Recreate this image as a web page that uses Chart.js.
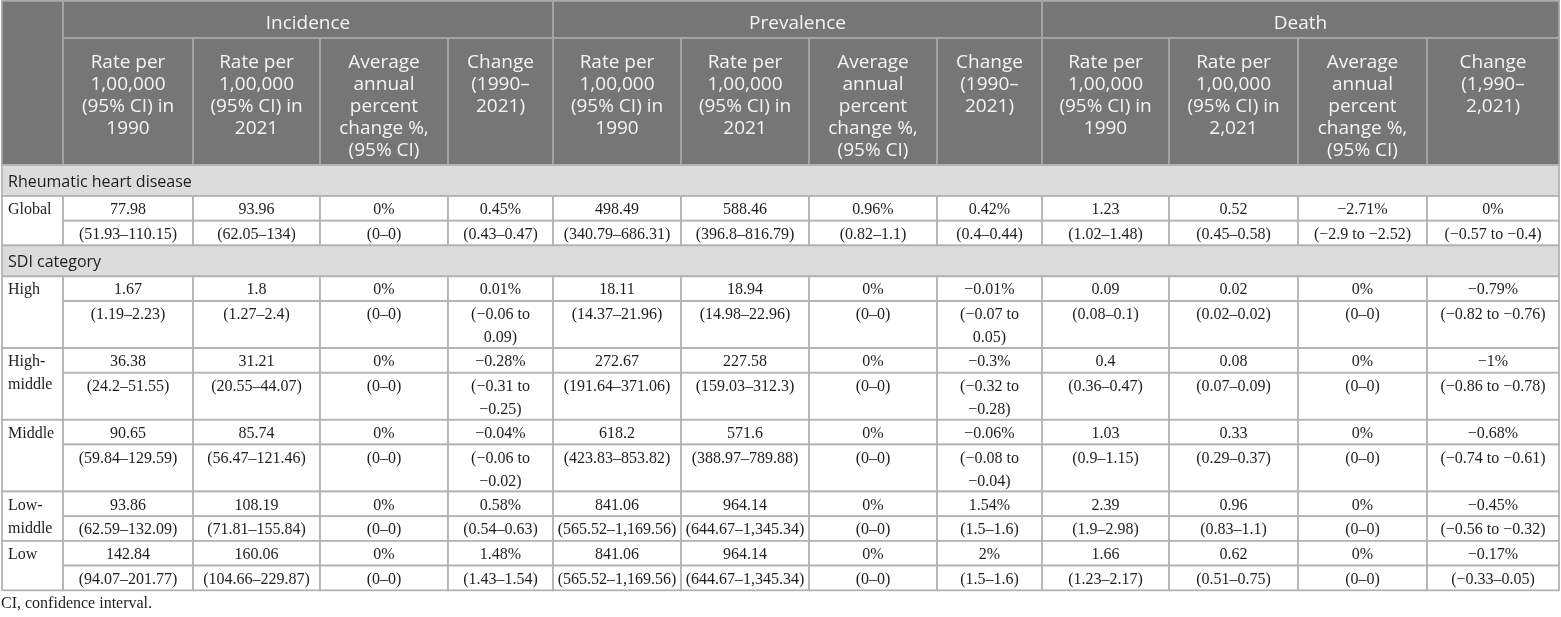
<!DOCTYPE html>
<html>
<head>
<meta charset="utf-8">
<script src="https://cdn.jsdelivr.net/npm/chart.js@4.4.1/dist/chart.umd.min.js"></script>
<style>
  html, body { margin: 0; padding: 0; background: #ffffff; }
  #wrap { width: 1561px; height: 617px; }
</style>
</head>
<body>
<div id="wrap"><canvas id="table_chart"></canvas></div>
<script>
// ---- data ----
const groups = ['Incidence', 'Prevalence', 'Death'];

const headersIncidence = [
    ['Rate per', '1,00,000', '(95% CI) in', '1990'],
    ['Rate per', '1,00,000', '(95% CI) in', '2021'],
    ['Average', 'annual', 'percent', 'change %,', '(95% CI)'],
    ['Change', '(1990–', '2021)']
];
const headersPrevalence = [
    ['Rate per', '1,00,000', '(95% CI) in', '1990'],
    ['Rate per', '1,00,000', '(95% CI) in', '2021'],
    ['Average', 'annual', 'percent', 'change %,', '(95% CI)'],
    ['Change', '(1990–', '2021)']
];
const headersDeath = [
    ['Rate per', '1,00,000', '(95% CI) in', '1990'],
    ['Rate per', '1,00,000', '(95% CI) in', '2,021'],
    ['Average', 'annual', 'percent', 'change %,', '(95% CI)'],
    ['Change', '(1,990–', '2,021)']
];

const sections = ['Rheumatic heart disease', 'SDI category'];
// which section each row belongs to
const rowSection = [0, 1, 1, 1, 1, 1];
const rowLabels = ['Global', 'High', 'High-middle', 'Middle', 'Low-middle', 'Low'];

const incidence1990 = ['77.98', '1.67', '36.38', '90.65', '93.86', '142.84'];
const incidence1990CI = ['(51.93–110.15)', '(1.19–2.23)', '(24.2–51.55)', '(59.84–129.59)', '(62.59–132.09)', '(94.07–201.77)'];
const incidence2021 = ['93.96', '1.8', '31.21', '85.74', '108.19', '160.06'];
const incidence2021CI = ['(62.05–134)', '(1.27–2.4)', '(20.55–44.07)', '(56.47–121.46)', '(71.81–155.84)', '(104.66–229.87)'];
const incidenceAAPC = ['0%', '0%', '0%', '0%', '0%', '0%'];
const incidenceAAPCCI = ['(0–0)', '(0–0)', '(0–0)', '(0–0)', '(0–0)', '(0–0)'];
const incidenceChange = ['0.45%', '0.01%', '−0.28%', '−0.04%', '0.58%', '1.48%'];
const incidenceChangeCI = ['(0.43–0.47)', '(−0.06 to 0.09)', '(−0.31 to −0.25)', '(−0.06 to −0.02)', '(0.54–0.63)', '(1.43–1.54)'];

const prevalence1990 = ['498.49', '18.11', '272.67', '618.2', '841.06', '841.06'];
const prevalence1990CI = ['(340.79–686.31)', '(14.37–21.96)', '(191.64–371.06)', '(423.83–853.82)', '(565.52–1,169.56)', '(565.52–1,169.56)'];
const prevalence2021 = ['588.46', '18.94', '227.58', '571.6', '964.14', '964.14'];
const prevalence2021CI = ['(396.8–816.79)', '(14.98–22.96)', '(159.03–312.3)', '(388.97–789.88)', '(644.67–1,345.34)', '(644.67–1,345.34)'];
const prevalenceAAPC = ['0.96%', '0%', '0%', '0%', '0%', '0%'];
const prevalenceAAPCCI = ['(0.82–1.1)', '(0–0)', '(0–0)', '(0–0)', '(0–0)', '(0–0)'];
const prevalenceChange = ['0.42%', '−0.01%', '−0.3%', '−0.06%', '1.54%', '2%'];
const prevalenceChangeCI = ['(0.4–0.44)', '(−0.07 to 0.05)', '(−0.32 to −0.28)', '(−0.08 to −0.04)', '(1.5–1.6)', '(1.5–1.6)'];

const death1990 = ['1.23', '0.09', '0.4', '1.03', '2.39', '1.66'];
const death1990CI = ['(1.02–1.48)', '(0.08–0.1)', '(0.36–0.47)', '(0.9–1.15)', '(1.9–2.98)', '(1.23–2.17)'];
const death2021 = ['0.52', '0.02', '0.08', '0.33', '0.96', '0.62'];
const death2021CI = ['(0.45–0.58)', '(0.02–0.02)', '(0.07–0.09)', '(0.29–0.37)', '(0.83–1.1)', '(0.51–0.75)'];
const deathAAPC = ['−2.71%', '0%', '0%', '0%', '0%', '0%'];
const deathAAPCCI = ['(−2.9 to −2.52)', '(0–0)', '(0–0)', '(0–0)', '(0–0)', '(0–0)'];
const deathChange = ['0%', '−0.79%', '−1%', '−0.68%', '−0.45%', '−0.17%'];
const deathChangeCI = ['(−0.57 to −0.4)', '(−0.82 to −0.76)', '(−0.86 to −0.78)', '(−0.74 to −0.61)', '(−0.56 to −0.32)', '(−0.33–0.05)'];

const footnote = 'CI, confidence interval.';

// ---- layout / style (kept apart from the data) ----
const tableLeft = 2;
const colWidths = [61, 130, 127, 128, 105, 128, 128, 128, 105, 127, 129, 129, 132];
const headTop = 1, head1H = 37, head2H = 127;
const sectionH = 31, lineH = 24.7, extraLineH = 22.3;
const sans = '"Open Sans", "Noto Sans", sans-serif';
const serif = '"Liberation Serif", "DejaVu Serif", serif';
const headBg = '#767676', headLine = '#a4a4a4', headText = '#f4f4f4';
const bodyLine = '#b3b3b3', sectionBg = '#dcdcdc', bodyText = '#1e1e1e';

const pointCols = [incidence1990, incidence2021, incidenceAAPC, incidenceChange,
    prevalence1990, prevalence2021, prevalenceAAPC, prevalenceChange,
    death1990, death2021, deathAAPC, deathChange];
const ciCols = [incidence1990CI, incidence2021CI, incidenceAAPCCI, incidenceChangeCI,
    prevalence1990CI, prevalence2021CI, prevalenceAAPCCI, prevalenceChangeCI,
    death1990CI, death2021CI, deathAAPCCI, deathChangeCI];
const subHeaders = headersIncidence.concat(headersPrevalence, headersDeath);

function wrapText(ctx, text, maxW) {
    const tokens = text.split(/(?<=[ \-])/);
    const lines = [];
    let cur = '';
    tokens.forEach((t) => {
        const test = cur + t;
        if (cur && ctx.measureText(test.trimEnd()).width > maxW) {
            lines.push(cur.trimEnd());
            cur = t;
        } else {
            cur = test;
        }
    });
    lines.push(cur.trimEnd());
    return lines;
}

const tablePlugin = {
    id: 'tablePlugin',
    afterDraw(chart) {
        const ctx = chart.ctx;
        const X = (v) => chart.scales.x.getPixelForValue(v);
        const Y = (v) => chart.scales.y.getPixelForValue(v);

        const colX = [tableLeft];
        colWidths.forEach((w) => colX.push(colX[colX.length - 1] + w));
        const right = colX[colX.length - 1];

        const rect = (x0, y0, x1, y1, fill, stroke) => {
            const px = X(x0), py = Y(y0), pw = X(x1) - px, ph = Y(y1) - py;
            if (fill) { ctx.fillStyle = fill; ctx.fillRect(px, py, pw, ph); }
            if (stroke) { ctx.strokeStyle = stroke; ctx.lineWidth = 1.8; ctx.strokeRect(px, py, pw, ph); }
        };
        const text = (s, x, y, align, font, color) => {
            ctx.font = font;
            ctx.fillStyle = color;
            ctx.textAlign = align;
            ctx.textBaseline = 'middle';
            ctx.fillText(s, X(x), Y(y));
        };

        ctx.save();

        // header
        const head2Top = headTop + head1H;
        const headBottom = head2Top + head2H;
        const headFont = '19px ' + sans;
        rect(colX[0], headTop, right, headBottom, headBg, null);
        rect(colX[0], headTop, colX[1], headBottom, null, headLine);
        groups.forEach((g, gi) => {
            const x0 = colX[1 + gi * 4], x1 = colX[5 + gi * 4];
            rect(x0, headTop, x1, head2Top, null, headLine);
            text(g, (x0 + x1) / 2, headTop + 23, 'center', headFont, headText);
        });
        subHeaders.forEach((lines, ci) => {
            const x0 = colX[ci + 1], x1 = colX[ci + 2];
            rect(x0, head2Top, x1, headBottom, null, headLine);
            lines.forEach((l, li) => {
                text(l, (x0 + x1) / 2, head2Top + 25 + li * 22, 'center', headFont, headText);
            });
        });

        // body
        const valFont = '16px ' + serif;
        let y = headBottom;
        let lastSection = -1;
        rowLabels.forEach((label, ri) => {
            if (rowSection[ri] !== lastSection) {
                lastSection = rowSection[ri];
                rect(colX[0], y, right, y + sectionH, sectionBg, bodyLine);
                text(sections[lastSection], colX[0] + 6, y + sectionH / 2 + 2, 'left', '16px ' + sans, bodyText);
                y += sectionH;
            }
            ctx.font = valFont;
            const ciLines = ciCols.map((col, ci) => wrapText(ctx, col[ri], colWidths[ci + 1] - 12));
            const labelLines = wrapText(ctx, label, colWidths[0] - 8);
            const nCi = Math.max(...ciLines.map((l) => l.length), labelLines.length - 1);
            const rowTop = y;
            const ciTop = rowTop + lineH;
            const rowBottom = ciTop + lineH + (nCi - 1) * extraLineH;

            rect(colX[0], rowTop, colX[1], rowBottom, '#ffffff', bodyLine);
            labelLines.forEach((l, li) => {
                text(l, colX[0] + 6, rowTop + lineH / 2 + 1.5 + li * 23, 'left', valFont, bodyText);
            });
            pointCols.forEach((col, ci) => {
                const x0 = colX[ci + 1], x1 = colX[ci + 2];
                rect(x0, rowTop, x1, ciTop, '#ffffff', bodyLine);
                rect(x0, ciTop, x1, rowBottom, '#ffffff', bodyLine);
                text(col[ri], (x0 + x1) / 2, rowTop + lineH / 2 + 1.5, 'center', valFont, bodyText);
                ciLines[ci].forEach((l, li) => {
                    text(l, (x0 + x1) / 2, ciTop + lineH / 2 + 1.5 + li * 23, 'center', valFont, bodyText);
                });
            });
            y = rowBottom;
        });

        text(footnote, 1, y + 13, 'left', '16px ' + serif, bodyText);
        ctx.restore();
    }
};

const ctx = document.getElementById('table_chart').getContext('2d');
const chart = new Chart(ctx, {
    type: 'scatter',
    data: { datasets: [{ data: [] }] },
    options: {
        responsive: true,
        maintainAspectRatio: false,
        animation: false,
        events: [],
        layout: { padding: 0 },
        plugins: {
            legend: { display: false },
            tooltip: { enabled: false },
        },
        scales: {
            x: { type: 'linear', min: 0, max: 1561, display: false },
            y: { type: 'linear', min: 0, max: 617, reverse: true, display: false },
        },
    },
    plugins: [tablePlugin],
});
</script>
</body>
</html>
